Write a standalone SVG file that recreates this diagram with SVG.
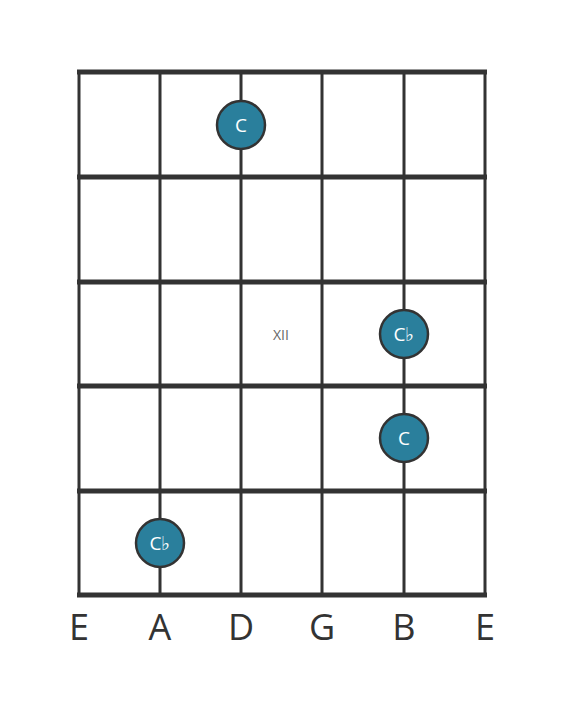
<svg xmlns="http://www.w3.org/2000/svg" width="566" height="711" viewBox="0 0 566 711">
<style>
.str{stroke:#333;stroke-width:3}
.fret{stroke:#333;stroke-width:5}
.dot circle{fill:#2a7f9c;stroke:#333;stroke-width:2.5}
.dot text{fill:#ffffff;font-family:"Open Sans",sans-serif;font-size:19px;text-anchor:middle}
.lbl{fill:#333;font-family:"Open Sans",sans-serif;font-size:36px;text-anchor:middle}
</style>
<rect width="566" height="711" fill="#fff"/>
<g id="connectors">
<line class="str" x1="79" y1="72" x2="79" y2="595"/>
<line class="str" x1="160" y1="72" x2="160" y2="595"/>
<line class="str" x1="241" y1="72" x2="241" y2="595"/>
<line class="str" x1="322" y1="72" x2="322" y2="595"/>
<line class="str" x1="404" y1="72" x2="404" y2="595"/>
<line class="str" x1="485" y1="72" x2="485" y2="595"/>
<line class="fret" x1="77" y1="72" x2="487" y2="72"/>
<line class="fret" x1="77" y1="177" x2="487" y2="177"/>
<line class="fret" x1="77" y1="282" x2="487" y2="282"/>
<line class="fret" x1="77" y1="386" x2="487" y2="386"/>
<line class="fret" x1="77" y1="491" x2="487" y2="491"/>
<line class="fret" x1="77" y1="595" x2="487" y2="595"/>
</g>
<g id="fretnum"><text x="281" y="340" font-family="'Open Sans',sans-serif" font-size="14" fill="#666" text-anchor="middle">XII</text></g>
<g id="n1" class="dot"><circle cx="241" cy="125" r="24"/><text x="241" y="132">C</text></g>
<g id="n2" class="dot"><circle cx="404" cy="334" r="24"/><text x="404" y="341">C♭</text></g>
<g id="n3" class="dot"><circle cx="404" cy="438" r="24"/><text x="404" y="445">C</text></g>
<g id="n4" class="dot"><circle cx="160" cy="543" r="24"/><text x="160" y="550">C♭</text></g>
<g id="labels">
<text class="lbl" x="79" y="640">E</text>
<text class="lbl" x="160" y="640">A</text>
<text class="lbl" x="241" y="640">D</text>
<text class="lbl" x="322" y="640">G</text>
<text class="lbl" x="404" y="640">B</text>
<text class="lbl" x="485" y="640">E</text>
</g>
</svg>
